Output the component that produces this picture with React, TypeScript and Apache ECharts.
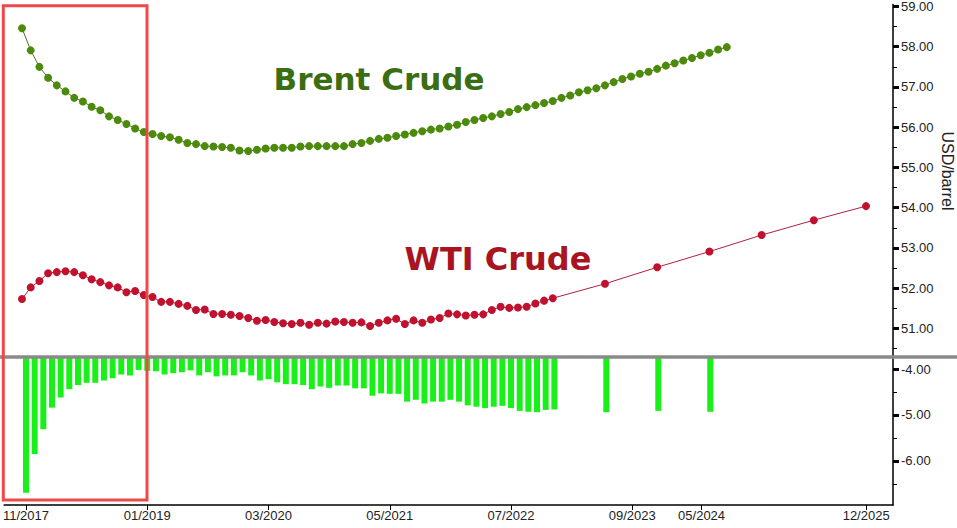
import React, { useEffect, useRef } from "react";
import * as echarts from "echarts";

// ---------- data ----------
// Monthly contracts starting 11/2017 (month index 0)
const brentMonthly = [
  58.46, 57.91, 57.5, 57.23, 57.04, 56.89, 56.73, 56.64, 56.51, 56.42, 56.27, 56.18, 56.08, 55.97, 55.88, 55.83,
  55.78, 55.75, 55.69, 55.61, 55.58, 55.53, 55.52, 55.51, 55.49, 55.42, 55.41, 55.44, 55.47, 55.49, 55.49, 55.49,
  55.52, 55.53, 55.53, 55.53, 55.53, 55.53, 55.58, 55.61, 55.66, 55.71, 55.74, 55.78, 55.82, 55.86, 55.9, 55.94,
  55.97, 56.02, 56.06, 56.13, 56.18, 56.23, 56.27, 56.33, 56.38, 56.45, 56.5, 56.55, 56.6, 56.65, 56.73, 56.79,
  56.87, 56.92, 56.97, 57.04, 57.12, 57.2, 57.26, 57.33, 57.38, 57.45, 57.53, 57.59, 57.66, 57.72, 57.79, 57.85,
  57.93, 57.99,
];

const wtiMonthly = [
  51.73, 52.02, 52.18, 52.37, 52.4, 52.42, 52.4, 52.32, 52.22, 52.15, 52.07, 52.02, 51.9, 51.93, 51.83, 51.78,
  51.66, 51.66, 51.61, 51.56, 51.46, 51.47, 51.36, 51.36, 51.34, 51.31, 51.26, 51.19, 51.21, 51.16, 51.13, 51.11,
  51.14, 51.09, 51.14, 51.12, 51.17, 51.16, 51.14, 51.15, 51.06, 51.14, 51.2, 51.24, 51.11, 51.2, 51.14, 51.22,
  51.26, 51.37, 51.35, 51.32, 51.34, 51.35, 51.46, 51.54, 51.51, 51.52, 51.54, 51.62, 51.69, 51.75,
];
const wtiBackMonths = ["06/2023", "12/2023", "06/2024", "12/2024", "06/2025", "12/2025"];
const wtiBack = [52.11, 52.52, 52.91, 53.32, 53.69, 54.04];

const spreadMonthly = [
  -6.69, -5.85, -5.31, -4.84, -4.62, -4.44, -4.35, -4.3, -4.3, -4.25, -4.2, -4.12, -4.14, -4.02, -4.04, -4.05,
  -4.12, -4.09, -4.07, -4.03, -4.14, -4.07, -4.16, -4.14, -4.14, -4.07, -4.14, -4.25, -4.22, -4.29, -4.33, -4.33,
  -4.35, -4.44, -4.38, -4.41, -4.36, -4.36, -4.42, -4.42, -4.58, -4.53, -4.54, -4.54, -4.71, -4.67, -4.75, -4.71,
  -4.71, -4.67, -4.71, -4.79, -4.82, -4.85, -4.82, -4.8, -4.85, -4.91, -4.93, -4.94, -4.89, -4.88,
];
const spreadBackMonths = ["06/2023", "12/2023", "06/2024"];
const spreadBack = [-4.94, -4.91, -4.93];

const xTickLabels = ["11/2017", "01/2019", "03/2020", "05/2021", "07/2022", "09/2023", "05/2024", "12/2025"];
const priceTicks = [51, 52, 53, 54, 55, 56, 57, 58, 59];
const priceMinorTicks = [50.5, 51.5, 52.5, 53.5, 54.5, 55.5, 56.5, 57.5, 58.5];
const spreadTicks = [-4, -5, -6];
const spreadMinorTicks = [-4.5, -5.5, -6.5];

// ---------- helpers ----------
function monthIndex(label: string): number {
  const [m, y] = label.split("/").map(Number);
  return (y - 2017) * 12 + (m - 11);
}

const FONT = "'Liberation Sans', Arial, sans-serif";

export default function App() {
  const ref = useRef<HTMLDivElement>(null);

  useEffect(() => {
    if (!ref.current) return;
    const chart = echarts.init(ref.current, undefined, { renderer: "svg" });

    const brentData = brentMonthly.map((v, i) => [i, v]);
    const wtiData = wtiMonthly
      .map((v, i) => [i, v])
      .concat(wtiBackMonths.map((m, k) => [monthIndex(m), wtiBack[k]]));
    const spreadData = spreadMonthly
      .map((v, i) => [i, v])
      .concat(spreadBackMonths.map((m, k) => [monthIndex(m), spreadBack[k]]));
    const xTickValues = xTickLabels.map(monthIndex);
    const labelByIndex: Record<number, string> = {};
    xTickLabels.forEach((l) => (labelByIndex[monthIndex(l)] = l));

    const xMin = -2.528;
    const xMax = 100.1;

    const yLabel = {
      show: true,
      formatter: (v: number) => v.toFixed(2),
      color: "#222",
      fontFamily: FONT,
      fontSize: 13,
      margin: 8,
    };

    const option: any = {
      animation: false,
      backgroundColor: "#ffffff",
      grid: [
        { left: 0, top: 0, width: 893, height: 357 },
        { left: 0, top: 357, width: 893, height: 148 },
      ],
      xAxis: [
        {
          type: "value",
          gridIndex: 0,
          min: xMin,
          max: xMax,
          show: false,
          splitLine: { show: false },
          axisLine: { onZero: false },
        },
        {
          type: "value",
          gridIndex: 1,
          min: xMin,
          max: xMax,
          splitLine: { show: false },
          axisLine: { show: true, onZero: false, lineStyle: { color: "#000", width: 1.5 } },
          axisTick: { show: true, customValues: xTickValues, length: 5, lineStyle: { color: "#000" } },
          axisLabel: {
            show: true,
            customValues: xTickValues,
            formatter: (v: number) => labelByIndex[Math.round(v)] || "",
            color: "#222",
            fontFamily: FONT,
            fontSize: 13,
            margin: 4,
          },
        },
      ],
      yAxis: [
        {
          type: "value",
          gridIndex: 0,
          position: "right",
          min: 50.29,
          max: 59.05,
          splitLine: { show: false },
          axisLine: { show: true, onZero: false, lineStyle: { color: "#000", width: 1.5 } },
          axisTick: { show: true, customValues: priceTicks, length: 6, lineStyle: { color: "#000", width: 3 } },
          axisLabel: { ...yLabel, customValues: priceTicks },
        },
        {
          type: "value",
          gridIndex: 0,
          position: "right",
          min: 50.29,
          max: 59.05,
          splitLine: { show: false },
          axisLine: { show: false, onZero: false },
          axisTick: { show: true, customValues: priceMinorTicks, length: 4, lineStyle: { color: "#000", width: 1 } },
          axisLabel: { show: false },
        },
        {
          type: "value",
          gridIndex: 1,
          position: "right",
          min: -6.957,
          max: -3.739,
          splitLine: { show: false },
          axisLine: { show: true, onZero: false, lineStyle: { color: "#000", width: 1.5 } },
          axisTick: { show: true, customValues: spreadTicks, length: 6, lineStyle: { color: "#000", width: 3 } },
          axisLabel: { ...yLabel, customValues: spreadTicks },
        },
        {
          type: "value",
          gridIndex: 1,
          position: "right",
          min: -6.957,
          max: -3.739,
          splitLine: { show: false },
          axisLine: { show: false, onZero: false },
          axisTick: { show: true, customValues: spreadMinorTicks, length: 4, lineStyle: { color: "#000", width: 1 } },
          axisLabel: { show: false },
        },
      ],
      series: [
        {
          name: "Brent Crude",
          type: "line",
          xAxisIndex: 0,
          yAxisIndex: 0,
          data: brentData,
          symbol: "circle",
          symbolSize: 8,
          showSymbol: true,
          itemStyle: { color: "#4c8a0c" },
          lineStyle: { color: "#56702a", width: 1 },
          z: 3,
        },
        {
          name: "WTI Crude",
          type: "line",
          xAxisIndex: 0,
          yAxisIndex: 0,
          data: wtiData,
          symbol: "circle",
          symbolSize: 8,
          showSymbol: true,
          itemStyle: { color: "#c0112e" },
          lineStyle: { color: "#b0203c", width: 1 },
          z: 3,
        },
        {
          name: "Spread",
          type: "bar",
          xAxisIndex: 1,
          yAxisIndex: 2,
          data: spreadData,
          barWidth: 6,
          clip: true,
          itemStyle: { color: "#19f019" },
          z: 2,
        },
      ],
      graphic: [
        {
          type: "line",
          shape: { x1: 0, y1: 357, x2: 957, y2: 357 },
          style: { stroke: "#8a8a8a", lineWidth: 3.5 },
          z: 50,
        },
        {
          type: "rect",
          shape: { x: 3.3, y: 5.8, width: 143.7, height: 494.2 },
          style: { fill: "none", stroke: "#ee4848", lineWidth: 3 },
          z: 60,
        },
        {
          type: "text",
          x: 379,
          y: 79,
          style: {
            text: "Brent Crude",
            fill: "#3b6e12",
            font: "bold 31px 'DejaVu Sans', Verdana, sans-serif",
            align: "center",
            verticalAlign: "middle",
          },
          z: 40,
        },
        {
          type: "text",
          x: 498,
          y: 259,
          style: {
            text: "WTI Crude",
            fill: "#a8141f",
            font: "bold 32px 'DejaVu Sans', Verdana, sans-serif",
            align: "center",
            verticalAlign: "middle",
          },
          z: 40,
        },
        {
          type: "text",
          x: 947,
          y: 171,
          rotation: -Math.PI / 2,
          style: {
            text: "USD/barrel",
            fill: "#222",
            font: "16px 'Liberation Sans', Arial, sans-serif",
            align: "center",
            verticalAlign: "middle",
          },
          z: 40,
        },
      ],
    };

    chart.setOption(option);
    return () => chart.dispose();
  }, []);

  return (
    <div
      ref={ref}
      style={{ position: "fixed", left: 0, top: 0, width: 957, height: 528, background: "#fff" }}
    />
  );
}
